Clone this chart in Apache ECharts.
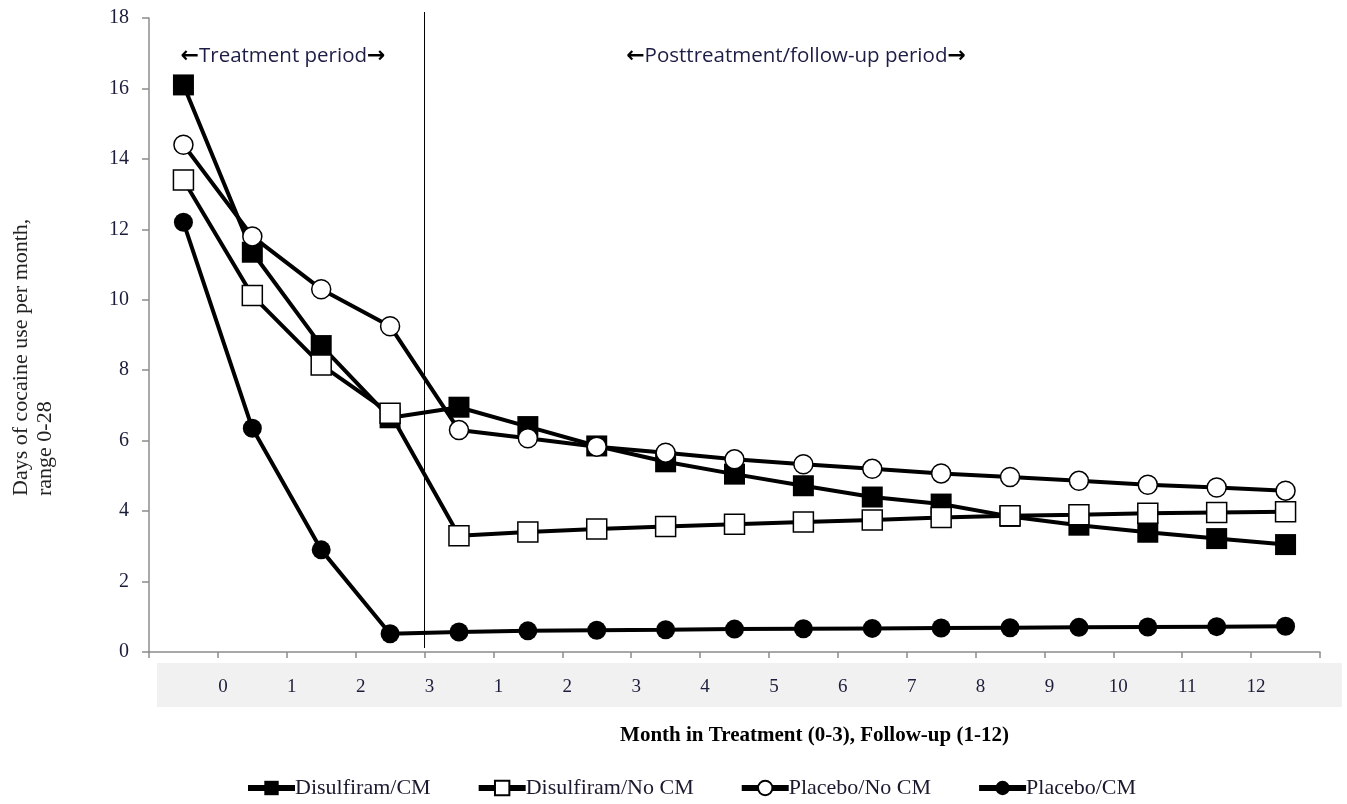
<!DOCTYPE html>
<html>
<head>
<meta charset="utf-8">
<script src="https://cdn.jsdelivr.net/npm/echarts@6/dist/echarts.min.js"></script>
<style>
html,body{margin:0;padding:0;background:#fff;}
#chart{width:1347px;height:804px;}
</style>
</head>
<body>
<div id="chart"></div>
<script>
// 17 plotted time points (baseline, treatment months, follow-up months)
const pointIds = ['p0','p1','p2','p3','p4','p5','p6','p7','p8','p9','p10','p11','p12','p13','p14','p15','p16'];
// tick labels sit on the boundaries between points (18 boundaries)
const tickLabels = ['', '0', '1', '2', '3', '1', '2', '3', '4', '5', '6', '7', '8', '9', '10', '11', '12', ''];

const disulfiramCM   = [16.1, 11.35, 8.7, 6.65, 6.95, 6.4, 5.85, 5.4, 5.05, 4.72, 4.4, 4.2, 3.85, 3.6, 3.4, 3.22, 3.05];
const disulfiramNoCM = [13.4, 10.12, 8.15, 6.78, 3.3, 3.41, 3.49, 3.56, 3.63, 3.69, 3.75, 3.82, 3.87, 3.9, 3.94, 3.96, 3.98];
const placeboNoCM    = [14.4, 11.8, 10.3, 9.25, 6.3, 6.07, 5.83, 5.66, 5.47, 5.33, 5.2, 5.07, 4.97, 4.86, 4.75, 4.67, 4.58];
const placeboCM      = [12.2, 6.35, 2.9, 0.52, 0.57, 0.6, 0.62, 0.63, 0.65, 0.66, 0.67, 0.68, 0.69, 0.7, 0.71, 0.72, 0.73];

const seriesNames = ['Disulfiram/CM', 'Disulfiram/No CM', 'Placebo/No CM', 'Placebo/CM'];
const yTitle = 'Days of cocaine use per month,\nrange 0-28';
const xTitle = 'Month in Treatment (0-3), Follow-up (1-12)';
const noteTreatment = 'Treatment period';
const notePost = 'Posttreatment/follow-up period';
const dividerBoundary = 4;

const serif = '"Liberation Serif", "Times New Roman", serif';
const sans = '"Open Sans", "Noto Sans", sans-serif';
const labelColor = '#1c1d3a';

function mkSeries(name, data, symbol, filled, size) {
  return {
    name: name,
    type: 'line',
    data: data,
    xAxisIndex: 0,
    symbol: symbol,
    symbolSize: size,
    showAllSymbol: true,
    lineStyle: { color: '#000', width: 4 },
    itemStyle: { color: filled ? '#000' : '#fff', borderColor: '#000', borderWidth: filled ? 0 : 1.5 },
    emphasis: { disabled: true },
    z: 3
  };
}

function noteText(t) {
  return {
    text: '{a|\u2190}' + t + '{a|\u2192}',
    font: '20.5px ' + sans,
    fill: '#1d1d45',
    align: 'center',
    verticalAlign: 'middle',
    rich: { a: { fontFamily: '"DejaVu Sans", sans-serif', fontWeight: 'bold', fontSize: 22, fill: '#000' } }
  };
}

const chart = echarts.init(document.getElementById('chart'), null, { renderer: 'canvas' });

const option = {
  animation: false,
  backgroundColor: '#fff',
  grid: { left: 149, right: 27, top: 18, bottom: 152, containLabel: false },
  xAxis: [
    {
      type: 'category',
      data: pointIds,
      boundaryGap: true,
      position: 'bottom',
      axisLine: { lineStyle: { color: '#8c8c8c', width: 1.5 } },
      axisTick: { show: true, length: 6, lineStyle: { color: '#8c8c8c', width: 1.5 } },
      axisLabel: { show: false },
      splitLine: { show: false }
    },
    {
      type: 'value',
      min: 0,
      max: tickLabels.length - 1,
      interval: 1,
      position: 'bottom',
      axisLine: { show: false },
      axisTick: { show: false },
      splitLine: { show: false },
      axisLabel: {
        show: true,
        margin: 26,
        color: labelColor,
        fontFamily: serif,
        fontSize: 19,
        padding: [0, 0, 0, 10],
        formatter: function (v) { return tickLabels[Math.round(v)] || ''; }
      }
    }
  ],
  yAxis: {
    type: 'value',
    min: 0,
    max: 18,
    interval: 2,
    axisLine: { show: true, lineStyle: { color: '#8c8c8c', width: 1.5 } },
    axisTick: { show: true, length: 7, lineStyle: { color: '#8c8c8c', width: 1.5 } },
    axisLabel: { color: labelColor, fontFamily: serif, fontSize: 20, margin: 20 },
    splitLine: { show: false }
  },
  legend: {
    data: seriesNames,
    left: 245,
    top: 777,
    padding: 0,
    itemWidth: 47,
    itemHeight: 18,
    itemGap: 45,
    lineStyle: { width: 6, color: '#000' },
    textStyle: { fontFamily: serif, fontSize: 22, color: '#1a1a2e', padding: [0, 0, 0, -5] }
  },
  series: [
    mkSeries(seriesNames[0], disulfiramCM, 'rect', true, 21),
    mkSeries(seriesNames[1], disulfiramNoCM, 'rect', false, 20),
    mkSeries(seriesNames[2], placeboNoCM, 'circle', false, 19),
    mkSeries(seriesNames[3], placeboCM, 'circle', true, 19)
  ]
};

chart.setOption(option);

const divX = chart.convertToPixel({ xAxisIndex: 1 }, dividerBoundary);
const leftX = chart.convertToPixel({ xAxisIndex: 1 }, 0);
const rightX = chart.convertToPixel({ xAxisIndex: 1 }, tickLabels.length - 1);

chart.setOption({
  graphic: [
    {
      type: 'rect', z: -10, silent: true,
      shape: { x: leftX + 8, y: 663, width: 1342 - (leftX + 8), height: 44 },
      style: { fill: '#f1f1f1' }
    },
    {
      type: 'line', z: 5, silent: true,
      shape: { x1: divX, y1: 12, x2: divX, y2: 648 },
      style: { stroke: '#000', lineWidth: 1 }
    },
    { type: 'text', z: 5, silent: true, x: 283, y: 56, style: noteText(noteTreatment) },
    { type: 'text', z: 5, silent: true, x: 796, y: 56, style: noteText(notePost) },
    {
      type: 'text', z: 5, silent: true,
      x: 33, y: 496, rotation: Math.PI / 2,
      style: { text: yTitle, font: '22px ' + serif, fill: '#222', align: 'left', verticalAlign: 'middle', lineHeight: 24 }
    },
    {
      type: 'text', z: 5, silent: true,
      x: (leftX + rightX) / 2 + 80, y: 736,
      style: { text: xTitle, font: 'bold 21px ' + serif, fill: '#000', align: 'center', verticalAlign: 'middle' }
    }
  ]
});
</script>
</body>
</html>
